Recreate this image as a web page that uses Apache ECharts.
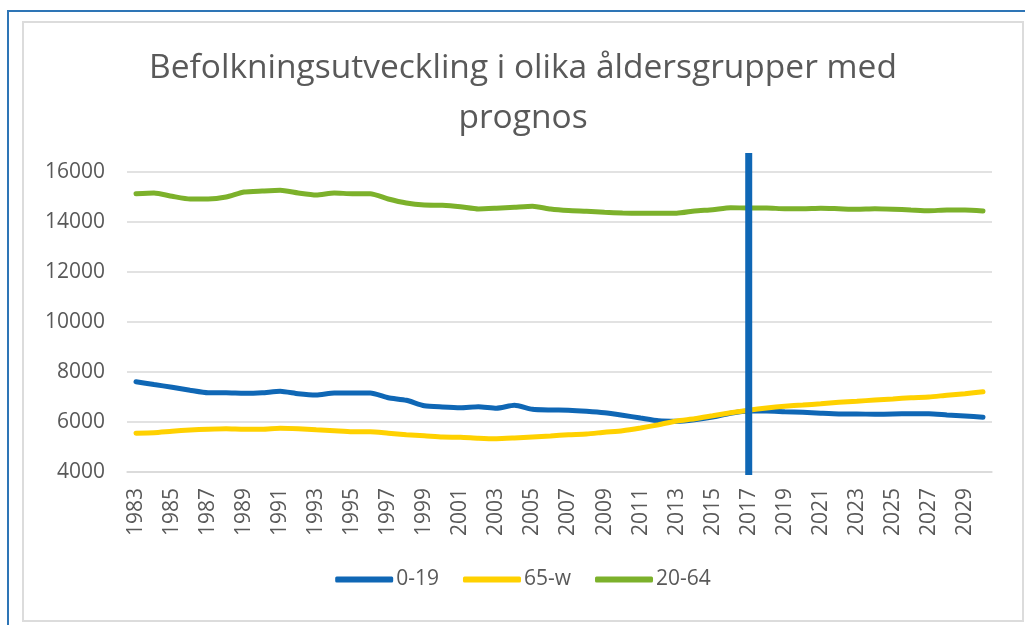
<!DOCTYPE html>
<html>
<head>
<meta charset="utf-8">
<script src="https://cdn.jsdelivr.net/npm/echarts@6/dist/echarts.min.js"></script>
<style>
  html, body { margin: 0; padding: 0; background: #fff; }
  body { width: 1025px; height: 625px; position: relative; overflow: hidden; }
  .outer-frame {
    position: absolute; left: 7px; top: 10px; width: 1030px; height: 630px;
    border-left: 2px solid #2e75b6; border-top: 2px solid #2e75b6;
  }
  .inner-frame {
    position: absolute; left: 22px; top: 21px; width: 998px; height: 597px;
    border: 2px solid #dcdcdc;
  }
  #chart { position: absolute; left: 23px; top: 22px; width: 1000px; height: 599px; }
</style>
</head>
<body>
<div class="outer-frame"></div>
<div class="inner-frame"></div>
<div id="chart"></div>
<script>
// år 1983-2030
var years = []
for (var y = 1983; y <= 2030; y++) years.push(String(y))

var values019 = [7610, 7500, 7390, 7270, 7170, 7170, 7150, 7170, 7230, 7130,
  7080, 7160, 7160, 7160, 6970, 6870, 6650, 6600, 6570, 6610,
  6550, 6670, 6510, 6480, 6470, 6430, 6370, 6270, 6160, 6050,
  6030, 6090, 6200, 6350, 6440, 6440, 6410, 6390, 6350, 6320,
  6320, 6310, 6320, 6330, 6330, 6280, 6240, 6190]

var values65w = [5550, 5570, 5630, 5680, 5710, 5730, 5710, 5710, 5750, 5730,
  5690, 5650, 5610, 5610, 5550, 5490, 5450, 5400, 5390, 5350,
  5330, 5360, 5400, 5440, 5490, 5520, 5590, 5650, 5760, 5890,
  6040, 6130, 6250, 6370, 6470, 6560, 6630, 6680, 6730, 6790,
  6830, 6880, 6920, 6970, 7000, 7070, 7130, 7210]

var values2064 = [15130, 15160, 15030, 14920, 14920, 15000, 15200, 15240, 15270, 15160,
  15080, 15160, 15130, 15130, 14920, 14760, 14680, 14670, 14610, 14520,
  14550, 14590, 14630, 14520, 14460, 14430, 14390, 14360, 14350, 14350,
  14350, 14440, 14490, 14570, 14560, 14560, 14530, 14530, 14550, 14530,
  14510, 14530, 14510, 14480, 14450, 14480, 14480, 14440]

// prognosgräns
var prognosYear = '2017'
var prognosSpan = [16760, 3880]

var seriesNames = ['0-19', '65-w', '20-64']
var colors = ['#0f67b5', '#ffd100', '#7cb12b']

var chart = echarts.init(document.getElementById('chart'))

var lineSeries = function (name, data, color) {
  return {
    name: name,
    type: 'line',
    data: data,
    smooth: 0.2,
    symbol: 'none',
    lineStyle: { width: 5, color: color, cap: 'round' },
    itemStyle: { color: color }
  }
}

var option = {
  animation: false,
  textStyle: { fontFamily: 'Open Sans' },
  title: {
    text: 'Befolkningsutveckling i olika åldersgrupper med\nprognos',
    left: 'center',
    top: 16,
    textStyle: {
      fontFamily: 'Open Sans',
      fontSize: 33.5,
      fontWeight: 'normal',
      color: '#595959',
      lineHeight: 50
    }
  },
  legend: {
    data: seriesNames,
    left: 'center',
    top: 542,
    icon: 'roundRect',
    itemWidth: 58,
    itemHeight: 6,
    itemGap: 24,
    textStyle: { fontSize: 21, color: '#595959', padding: [0, 0, 0, -2] }
  },
  grid: { left: 104, right: 31, top: 150, bottom: 149 },
  xAxis: {
    type: 'category',
    data: years,
    boundaryGap: true,
    axisTick: { show: false },
    axisLine: { lineStyle: { color: '#d9d9d9', width: 1.5 } },
    axisLabel: {
      rotate: 90,
      interval: 1,
      margin: 16,
      fontSize: 21,
      color: '#595959'
    }
  },
  yAxis: {
    type: 'value',
    min: 4000,
    max: 16000,
    interval: 2000,
    axisLine: { show: false },
    axisTick: { show: false },
    splitLine: { lineStyle: { color: '#d9d9d9', width: 1.5 } },
    axisLabel: {
      fontSize: 21,
      color: '#595959',
      margin: 22,
      formatter: function (v) { return String(v) }
    }
  },
  series: [
    lineSeries(seriesNames[0], values019, colors[0]),
    lineSeries(seriesNames[1], values65w, colors[1]),
    lineSeries(seriesNames[2], values2064, colors[2]),
    {
      name: 'prognos',
      type: 'line',
      data: [[prognosYear, prognosSpan[0]], [prognosYear, prognosSpan[1]]],
      symbol: 'none',
      clip: false,
      silent: true,
      lineStyle: { width: 7, color: colors[0] },
      z: 5
    }
  ]
}

chart.setOption(option)
</script>
</body>
</html>
